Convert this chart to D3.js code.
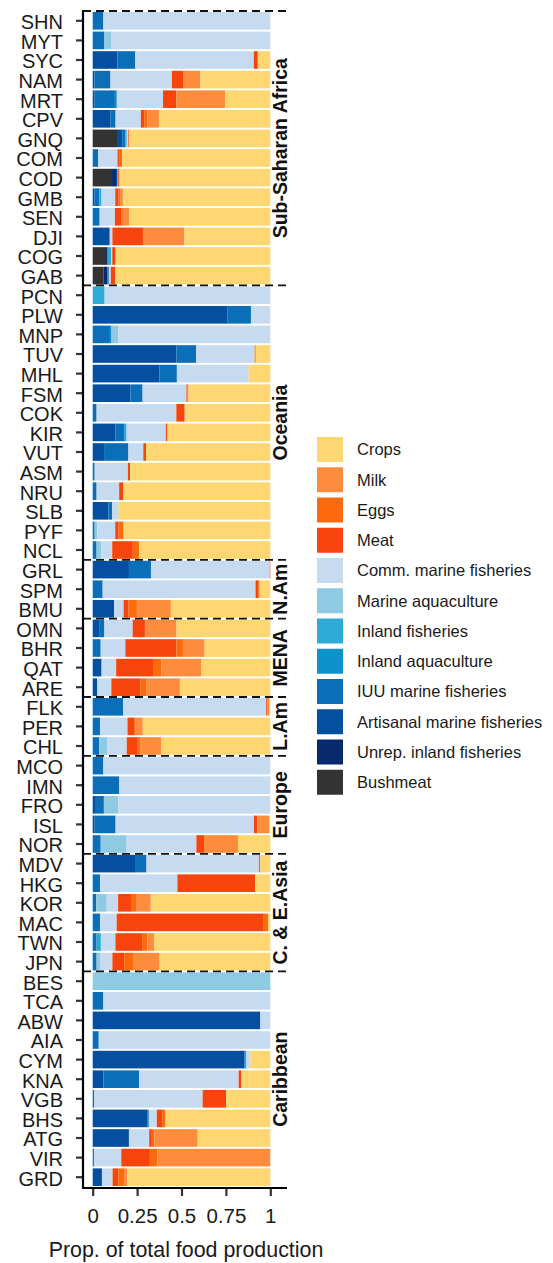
<!DOCTYPE html>
<html>
<head>
<meta charset="utf-8">
<script src="https://cdn.jsdelivr.net/npm/d3@7"></script>
<style>
  html, body { margin: 0; padding: 0; background: #fff; }
  svg { display: block; font-family: "Liberation Sans", Arial, sans-serif; }
</style>
</head>
<body>
<svg id="chart" width="553" height="1263"></svg>
<script>
// countries, top to bottom, grouped by region
const countries = [
  "SHN","MYT","SYC","NAM","MRT","CPV","GNQ","COM","COD","GMB","SEN","DJI","COG","GAB",
  "PCN","PLW","MNP","TUV","MHL","FSM","COK","KIR","VUT","ASM","NRU","SLB","PYF","NCL",
  "GRL","SPM","BMU",
  "OMN","BHR","QAT","ARE",
  "FLK","PER","CHL",
  "MCO","IMN","FRO","ISL","NOR",
  "MDV","HKG","KOR","MAC","TWN","JPN",
  "BES","TCA","ABW","AIA","CYM","KNA","VGB","BHS","ATG","VIR","GRD"
];
const regions = ["Sub-Saharan Africa","Oceania","N.Am","MENA","L.Am","Europe","C. & E.Asia","Caribbean"];
const regionSizes = [14, 14, 3, 4, 3, 5, 6, 11];

// legend order (top to bottom)
const sources = ["Crops","Milk","Eggs","Meat","Comm. marine fisheries","Marine aquaculture",
  "Inland fisheries","Inland aquaculture","IUU marine fisheries","Artisanal marine fisheries",
  "Unrep. inland fisheries","Bushmeat"];
const colors = ["#fed672","#fd8d3c","#fc6a0e","#f7440c","#c6dbef","#8ecae2",
  "#2eaad6","#0c93cb","#0a6fb8","#044f9f","#08296b","#333333"];

// shares of total food production, one value per country (same order as countries)
const bushmeat = [0,0,0,0,0,0,.142,0,.109,0,0,0,.075,.06,
  0,0,0,0,0,0,0,0,0,0,0,0,0,0, 0,0,0, 0,0,0,0, 0,0,0, 0,0,0,0,0, 0,0,0,0,0,0,
  0,0,0,0,0,0,0,0,0,0,0];
const unrepInland = [0,0,0,0,0,0,0,0,.022,0,0,0,.009,.022,
  0,0,0,0,0,0,0,0,0,0,0,0,0,0, 0,0,0, 0,0,0,0, 0,0,0, 0,0,0,0,0, 0,0,0,0,0,0,
  0,0,0,0,0,0,0,0,0,0,0];
const artisanal = [0,0,.139,.01,.011,.101,.024,0,.007,.009,0,.096,0,0,
  0,.76,0,.472,.375,.212,0,.127,.064,0,0,.088,0,0, .204,0,.12, .036,0,.05,.026, 0,0,0,
  0,0,.013,.011,0, .243,0,0,0,0,0, 0,0,.944,0,.856,.06,0,.307,.204,0,.052];
const iuu = [.06,.066,.101,.09,.114,.028,.017,.03,0,.028,.039,0,0,.009,
  0,.131,.097,.11,.099,.069,.022,.049,.137,.011,.022,.022,.011,.022, .124,.056,0, .03,.045,0,0,
  .172,.041,.036, .06,.15,.05,.118,.045, .06,.041,.019,.041,.022,.022,
  0,.06,0,.034,0,.202,.009,.009,0,.007,0];
const inlandAq = [0,0,0,0,.011,0,0,0,0,0,0,0,0,0,
  0,0,.009,0,0,0,0,0,0,0,0,0,0,0, 0,0,0, 0,0,0,0, 0,0,0, 0,0,0,0,0, 0,0,0,0,0,0,
  0,0,0,0,0,0,0,0,0,0,0];
const inlandFish = [0,0,0,0,0,0,.009,0,.006,.013,0,0,.019,0,
  .067,0,0,0,0,0,0,.015,0,0,0,0,0,0, 0,0,0, 0,0,0,0, 0,0,0, 0,0,0,0,0, 0,0,0,0,.024,0,
  0,0,0,0,.01,0,0,0,0,0,0];
const marineAq = [0,.037,0,0,0,0,0,0,0,0,0,0,0,0,
  0,0,.037,0,0,0,0,0,0,0,0,0,.015,.026, 0,0,0, 0,0,0,0, 0,0,.047, 0,0,.082,0,.146,
  0,0,.06,0,0,.022, 1,0,0,0,0,0,0,0,0,0,0];
const commMarine = [.94,.897,.667,.346,.26,.142,.007,.11,0,.077,.086,.015,.007,.011,
  .933,.109,.857,.33,.404,.247,.449,.221,.084,.187,.127,.036,.101,.062, .669,.861,.054,
  .159,.139,.082,.079, .805,.155,.109, .94,.85,.855,.779,.393, .633,.436,.064,.094,.082,.067,
  0,.94,.056,.966,.022,.56,.61,.045,.114,.154,.06];
const meat = [0,0,.019,.066,.075,.019,.004,.009,.007,.019,.037,.172,.019,.026,
  0,0,0,0,0,.006,.047,.009,.015,.013,.024,0,.019,.116, .003,.015,.028, .069,.288,.212,.163,
  .005,.037,.062, 0,0,0,.019,.043, 0,.438,.077,.828,.15,.066,
  0,0,0,0,0,.015,.133,.03,.015,.161,.032];
const eggs = [0,0,.005,0,0,.019,0,.017,0,.008,.008,0,0,0,
  0,0,0,.006,0,.005,0,0,0,0,0,0,.028,.036, 0,.008,.047, 0,.036,.043,.036, 0,.009,.013,
  0,0,0,0,0, .008,0,.028,.024,.03,.05, 0,0,0,0,0,0,0,.019,.015,.043,.032];
const milk = [0,0,0,.095,.275,.064,.004,0,0,.016,.037,.234,0,0,
  0,0,0,0,0,0,0,0,0,0,0,0,0,0, 0,0,.191, .178,.122,.223,.187, .013,.04,.12,
  0,0,0,.066,.191, 0,0,.079,0,.037,.15, 0,0,0,0,0,0,0,0,.243,.635,.019];
const crops = [0,0,.069,.393,.254,.627,.793,.834,.849,.83,.793,.483,.871,.872,
  0,0,0,.082,.122,.461,.482,.579,.7,.789,.827,.854,.826,.738, 0,.06,.56, .528,.37,.39,.509,
  .005,.718,.613, 0,0,0,.007,.182, .056,.085,.673,.013,.655,.623,
  0,0,0,0,.112,.163,.248,.59,.409,0,.805];

const xTicks = [0, 0.25, 0.5, 0.75, 1];
const xTickLabels = ["0", "0.25", "0.5", "0.75", "1"];

// stacking order, left to right (reverse of legend)
const seriesValues = [crops, milk, eggs, meat, commMarine, marineAq, inlandFish, inlandAq, iuu, artisanal, unrepInland, bushmeat];
const keys = sources.slice().reverse();
const table = countries.map((c, i) => {
  const row = {country: c};
  sources.forEach((s, k) => { row[s] = seriesValues[k][i]; });
  return row;
});
const colorOf = d3.scaleOrdinal().domain(sources).range(colors);

const svg = d3.select("#chart");
const axisX = 83;

const y = d3.scaleBand().domain(countries).range([11, 1187]).paddingInner(0.1).paddingOuter(0.05);
const x = d3.scaleLinear().domain([0, 1]).range([92.7, 270.3]);

const stacked = d3.stack().keys(keys)(table);

svg.append("g")
  .selectAll("g")
  .data(stacked)
  .join("g")
    .attr("fill", d => colorOf(d.key))
  .selectAll("rect")
  .data(d => d)
  .join("rect")
    .attr("x", d => x(d[0]))
    .attr("width", d => Math.max(0, x(d[1]) - x(d[0])))
    .attr("y", d => y(d.data.country))
    .attr("height", y.bandwidth());

// region separators
const gap = (y.step() - y.bandwidth()) / 2;
let start = 0;
const groupInfo = regions.map((r, i) => {
  const first = countries[start];
  const last = countries[start + regionSizes[i] - 1];
  start += regionSizes[i];
  return {name: r, top: y(first) - gap, bottom: y(last) + y.bandwidth() + gap};
});

svg.append("g")
  .selectAll("line")
  .data(groupInfo)
  .join("line")
    .attr("x1", axisX).attr("x2", 290)
    .attr("y1", d => d.top).attr("y2", d => d.top)
    .attr("stroke", "#111")
    .attr("stroke-width", 1.8)
    .attr("stroke-dasharray", "8,5");

svg.append("g")
  .selectAll("text")
  .data(groupInfo)
  .join("text")
    .attr("transform", d => `translate(287,${(d.top + d.bottom) / 2}) rotate(-90)`)
    .attr("text-anchor", "middle")
    .attr("font-weight", "bold")
    .attr("font-size", 19.5)
    .attr("fill", "#111")
    .text(d => d.name);

// y axis
const yAxis = svg.append("g")
  .attr("transform", `translate(${axisX},0)`)
  .call(d3.axisLeft(y).tickSize(7).tickPadding(13));
yAxis.select(".domain").remove();
yAxis.selectAll(".tick line").attr("stroke", "#333").attr("stroke-width", 2.2);
yAxis.selectAll(".tick text")
  .attr("font-size", 20)
  .attr("font-family", "Liberation Sans, Arial, sans-serif")
  .attr("fill", "#1a1a1a")
  .attr("dy", "0.42em");

svg.append("line")
  .attr("x1", axisX).attr("x2", axisX)
  .attr("y1", 10).attr("y2", 1189)
  .attr("stroke", "#000").attr("stroke-width", 2.2);

// x axis
const xAxis = svg.append("g")
  .attr("transform", "translate(0,1188)")
  .call(d3.axisBottom(x).tickValues(xTicks).tickFormat((d, i) => xTickLabels[i]).tickSize(8).tickPadding(12));
xAxis.select(".domain").remove();
xAxis.selectAll(".tick line").attr("stroke", "#333").attr("stroke-width", 2.2);
xAxis.selectAll(".tick text")
  .attr("font-size", 20.5)
  .attr("font-family", "Liberation Sans, Arial, sans-serif")
  .attr("fill", "#1a1a1a");

svg.append("line")
  .attr("x1", axisX - 1).attr("x2", 287)
  .attr("y1", 1188).attr("y2", 1188)
  .attr("stroke", "#000").attr("stroke-width", 2.2);

svg.append("text")
  .attr("x", 186).attr("y", 1257)
  .attr("text-anchor", "middle")
  .attr("font-size", 21.4)
  .attr("fill", "#1a1a1a")
  .text("Prop. of total food production");

// legend
const legend = svg.append("g").attr("transform", "translate(317,437)");
const item = legend.selectAll("g")
  .data(sources)
  .join("g")
    .attr("transform", (d, i) => `translate(0,${i * 30.25})`);
item.append("rect")
  .attr("width", 26).attr("height", 25)
  .attr("fill", d => colorOf(d));
item.append("text")
  .attr("x", 40).attr("y", 12.5)
  .attr("dy", "0.35em")
  .attr("font-size", 16.5)
  .attr("fill", "#1a1a1a")
  .text(d => d);
</script>
</body>
</html>
